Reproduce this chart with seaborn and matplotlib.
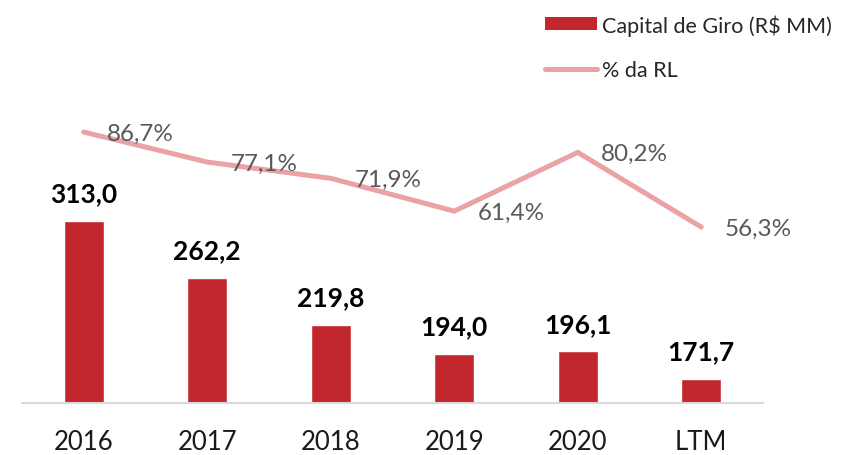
import pandas as pd
import matplotlib
matplotlib.use("Agg")
import matplotlib.pyplot as plt
import seaborn as sns
from matplotlib.patches import Patch
from matplotlib.lines import Line2D

sns.set_theme(style="white")
plt.rcParams['font.family'] = ['Lato', 'DejaVu Sans']

# data
periods = ["2016", "2017", "2018", "2019", "2020", "LTM"]
capital_giro = [313.0, 262.2, 219.8, 194.0, 196.1, 171.7]
pct_rl = [86.7, 77.1, 71.9, 61.4, 80.2, 56.3]

bar_color = "#C1272D"
line_color = "#EBA2A5"

df = pd.DataFrame({"periodo": periods, "capital": capital_giro, "pct": pct_rl})

fig = plt.figure(figsize=(8.57, 4.56), dpi=100)
ax = fig.add_axes([22 / 857, 52 / 456, 741 / 857, 312.5 / 456])

sns.barplot(data=df, x="periodo", y="capital", color=bar_color, width=0.32,
            saturation=1, ax=ax)
ax.set_ylim(150, 429.5)
ax.set_xlim(-0.5, 5.5)

# bar value labels
for i, v in enumerate(capital_giro):
    ax.annotate(f"{v:.1f}".replace(".", ","), (i, v), xytext=(0, 14),
                textcoords="offset points", ha="center", va="baseline",
                fontsize=19, fontweight="bold", color="black")

ax2 = ax.twinx()
sns.lineplot(data=df, x="periodo", y="pct", color=line_color, linewidth=3.6,
             ax=ax2, solid_capstyle="round")
ax2.set_ylim(0, 100)
ax2.set_xlim(-0.5, 5.5)

for i, v in enumerate(pct_rl):
    ax2.annotate(f"{v:.1f}%".replace(".", ","), (i, v), xytext=(17, -1),
                 textcoords="offset points", ha="left", va="center",
                 fontsize=17.5, color="#595959")

# axes styling
for a in (ax, ax2):
    a.set_xlabel("")
    a.set_ylabel("")
    a.set_yticks([])
    for s in ["top", "right", "left", "bottom"]:
        a.spines[s].set_visible(False)
ax.spines["bottom"].set_visible(True)
ax.spines["bottom"].set_color("#D9D9D9")
ax.spines["bottom"].set_linewidth(1.5)
ax.tick_params(axis="x", length=0, pad=19, labelsize=18.5, labelcolor="#1a1a1a")

# legend
handles = [Patch(facecolor=bar_color, edgecolor="none"),
           Line2D([0], [0], color=line_color, linewidth=3.6, solid_capstyle="round")]
labels = ["Capital de Giro (R$ MM)", "% da RL"]
fig.legend(handles, labels, loc="upper left", bbox_to_anchor=(530 / 857, 1.0),
           frameon=False, fontsize=15.5, handlelength=2.4, handleheight=0.55,
           handletextpad=0.25, labelspacing=1.15, borderaxespad=0.3)

fig.savefig("out.png", dpi=100)
